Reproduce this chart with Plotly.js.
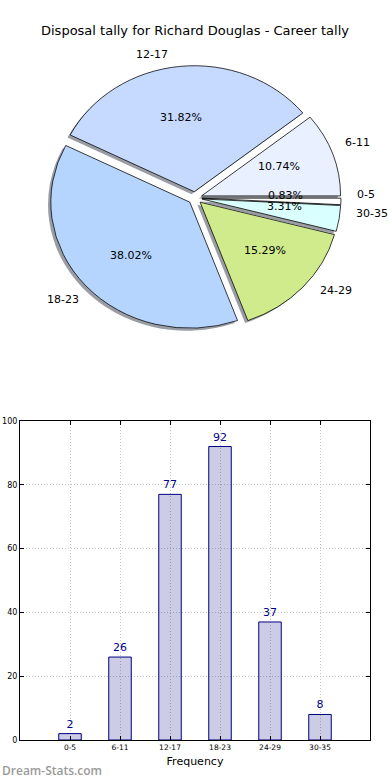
<!DOCTYPE html>
<html>
<head>
<meta charset="utf-8">
<script src="https://cdn.plot.ly/plotly-3.0.1.min.js"></script>
<style>
  html, body { margin: 0; padding: 0; background: #fff; }
  #chart { width: 390px; height: 780px; }
</style>
</head>
<body>
<div id="chart"></div>
<script>
// ---- data ----
const categories = ['0-5', '6-11', '12-17', '18-23', '24-29', '30-35'];
const counts = [2, 26, 77, 92, 37, 8];
const sliceColors = ['#ffffff', '#e9f0ff', '#c6d9ff', '#b5d5ff', '#d0eb8c', '#d9ffff'];
const yTicks = [0, 20, 40, 60, 80, 100];
const chartTitle = 'Disposal tally for Richard Douglas - Career tally';

// ---- layout constants ----
const W = 390, H = 780;
const pull = 0.05;            // explode for every slice
const cx = 195, cy = 198;     // pie centre in px
const rx = 139, ry = 126;     // pie radii in px (matplotlib pie is elliptical here)
const pctDist = 0.6, labelDist = 1.1;
const shadowOff = 0.02;

const total = counts.reduce((a, b) => a + b, 0);
const boxH = rx * (2 + 2 * pull);
const yc = 1 - cy / H;
const pieDomY = [yc - boxH / H / 2, yc + boxH / H / 2];
const sx = shadowOff * rx / W, sy = shadowOff * rx / H;

const shadowTrace = {
  type: 'pie', values: counts, labels: categories, sort: false,
  direction: 'counterclockwise', rotation: 90,
  pull: counts.map(() => pull),
  marker: { colors: counts.map(() => '#9a9ea4'), line: { width: 0 } },
  textinfo: 'none', hoverinfo: 'skip', showlegend: false,
  domain: { x: [0, 1 - 2 * sx], y: [pieDomY[0] - sy, pieDomY[1] - sy] }
};
const pieTrace = {
  type: 'pie', values: counts, labels: categories, sort: false,
  direction: 'counterclockwise', rotation: 90,
  pull: counts.map(() => pull),
  marker: { colors: sliceColors, line: { color: '#000', width: 0.8 } },
  textinfo: 'none', hoverinfo: 'skip', showlegend: false,
  domain: { x: [0, 1], y: pieDomY }
};

const barTrace = {
  type: 'bar', x: categories.map((c, i) => i), y: counts,
  width: 0.45,
  marker: { color: 'rgba(0,0,128,0.2)', line: { color: '#000080', width: 1 } },
  text: counts.map(String), textposition: 'outside', cliponaxis: false,
  textfont: { family: 'DejaVu Sans', size: 11, color: '#00008b' },
  hoverinfo: 'skip', showlegend: false,
  xaxis: 'x', yaxis: 'y'
};

// annotations for pie labels (computed from data like matplotlib does)
const annotations = [];
let cum = 0;
counts.forEach((v, i) => {
  const mid = (cum + v / 2) / total * 2 * Math.PI;
  cum += v;
  const c = Math.cos(mid), s = Math.sin(mid);
  const ox = cx + pull * rx * c, oy = cy - pull * ry * s;
  annotations.push({
    xref: 'paper', yref: 'paper',
    x: (ox + pctDist * rx * c) / W, y: 1 - (oy - pctDist * ry * s) / H,
    xanchor: 'center', yanchor: 'middle', showarrow: false,
    text: (v / total * 100).toFixed(2) + '%',
    font: { family: 'DejaVu Sans', size: 11, color: '#000' }
  });
  annotations.push({
    xref: 'paper', yref: 'paper',
    x: (ox + labelDist * rx * c) / W, y: 1 - (oy - labelDist * ry * s) / H,
    xanchor: c > 0 ? 'left' : 'right', yanchor: 'middle', showarrow: false,
    text: categories[i],
    font: { family: 'DejaVu Sans', size: 11, color: '#000' }
  });
});
annotations.push({
  xref: 'paper', yref: 'paper', x: 0, y: 1 - 770 / H,
  xanchor: 'left', yanchor: 'middle', showarrow: false,
  text: 'Dream-Stats.com',
  font: { family: 'Open Sans', size: 12, weight: 600, color: '#9a9a9a' }
});

const gridStyle = { showgrid: true, gridcolor: '#c4c4c4', griddash: '1px,2px', gridwidth: 1 };

const layout = {
  width: W, height: H,
  margin: { l: 0, r: 0, t: 0, b: 0 },
  paper_bgcolor: '#fff', plot_bgcolor: '#fff',
  showlegend: false,
  title: {
    text: chartTitle, x: 0.5, xanchor: 'center', y: 1 - 30 / H, yanchor: 'middle',
    font: { family: 'DejaVu Sans', size: 13, color: '#000' }
  },
  xaxis: Object.assign({
    domain: [20 / W, 370 / W], range: [-1, 6],
    tickvals: categories.map((c, i) => i), ticktext: categories,
    tickfont: { family: 'DejaVu Sans', size: 7.5, color: '#000' },
    ticks: 'inside', ticklen: 4, tickcolor: '#000', mirror: 'ticks',
    showline: true, linecolor: '#000', linewidth: 1,
    zeroline: false, fixedrange: true,
    title: { text: 'Frequency', standoff: 6, font: { family: 'DejaVu Sans', size: 11, color: '#000' } }
  }, gridStyle),
  yaxis: Object.assign({
    domain: [1 - 740 / H, 1 - 421 / H], range: [0, 100],
    tickvals: yTicks,
    tickfont: { family: 'DejaVu Sans', size: 8, color: '#000' },
    ticks: 'inside', ticklen: 4, tickcolor: '#000', mirror: 'ticks',
    showline: true, linecolor: '#000', linewidth: 1,
    zeroline: false, fixedrange: true
  }, gridStyle),
  annotations: annotations
};

Plotly.newPlot('chart', [shadowTrace, pieTrace, barTrace], layout, { displayModeBar: false, staticPlot: true })
  .then(() => {
    const pl = document.querySelector('.pielayer');
    if (pl) pl.setAttribute('transform', `translate(0,${cy}) scale(1,${ry / rx}) translate(0,${-cy})`);
  });
</script>
</body>
</html>
